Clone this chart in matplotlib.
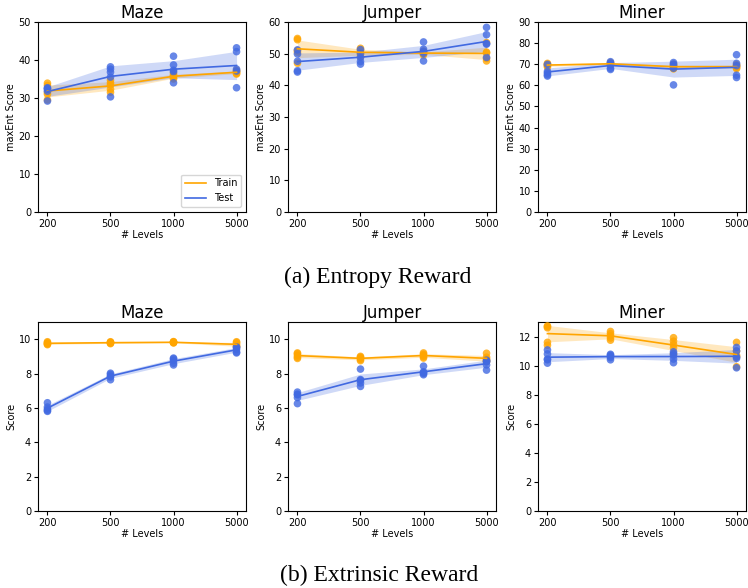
import numpy as np
import matplotlib
matplotlib.use("Agg")
import matplotlib.pyplot as plt

# --- Data (5 seeds per level count) ---
LEVELS = ["200", "500", "1000", "5000"]
GAMES = ["Maze", "Jumper", "Miner"]

# (a) entropy reward, maxEnt score
ENT_TRAIN = {
    "Maze": [[33.9, 33.3, 31.5, 31.0, 29.5], [34.7, 34.0, 33.4, 32.3, 31.5],
             [36.5, 36.0, 35.8, 35.3, 35.0], [37.3, 37.0, 36.8, 36.5, 36.3]],
    "Jumper": [[54.8, 54.4, 51.0, 50.5, 47.0], [51.7, 51.2, 50.5, 49.8, 49.0],
               [50.8, 50.4, 50.1, 49.6, 50.0], [53.5, 50.5, 50.2, 48.5, 47.7]],
    "Miner": [[70.4, 70.0, 69.6, 69.3, 68.7], [70.8, 70.5, 70.2, 69.9, 69.6],
              [70.0, 69.3, 68.7, 68.3, 67.8], [69.8, 69.3, 68.8, 68.4, 67.9]],
}
ENT_TEST = {
    "Maze": [[32.7, 32.3, 31.8, 32.5, 29.2], [38.2, 37.6, 36.8, 35.5, 30.3],
             [41.0, 38.7, 37.3, 36.9, 34.0], [43.2, 42.2, 37.6, 37.1, 32.7]],
    "Jumper": [[51.2, 49.9, 44.6, 44.2, 47.6], [51.3, 50.1, 48.8, 47.5, 46.7],
               [53.7, 51.4, 50.7, 50.1, 47.7], [58.3, 56.0, 53.2, 53.0, 48.8]],
    "Miner": [[69.9, 66.6, 65.8, 65.0, 64.4], [71.2, 70.5, 69.7, 68.1, 67.5],
              [70.8, 70.0, 69.3, 68.1, 60.2], [74.5, 70.4, 69.3, 64.8, 63.7]],
}
ENT_YMAX = {"Maze": 50, "Jumper": 60, "Miner": 90}

# (b) extrinsic reward, score
EXT_TRAIN = {
    "Maze": [[9.85, 9.8, 9.75, 9.72, 9.68], [9.85, 9.82, 9.8, 9.77, 9.74],
             [9.86, 9.84, 9.82, 9.8, 9.78], [9.85, 9.8, 9.7, 9.6, 9.55]],
    "Jumper": [[9.2, 9.15, 9.05, 8.95, 8.88], [9.0, 8.95, 8.9, 8.82, 8.75],
               [9.2, 9.12, 9.05, 8.98, 8.9], [9.18, 8.95, 8.85, 8.75, 8.7]],
    "Miner": [[12.73, 12.68, 12.6, 11.6, 11.4], [12.35, 12.2, 12.05, 11.9, 11.75],
              [11.92, 11.68, 11.45, 11.22, 10.8], [11.6, 11.0, 10.7, 10.6, 9.92]],
}
EXT_TEST = {
    "Maze": [[6.3, 6.05, 5.93, 5.85, 5.8], [8.02, 7.95, 7.85, 7.8, 7.64],
             [8.9, 8.85, 8.76, 8.6, 8.5], [9.55, 9.5, 9.4, 9.25, 9.2]],
    "Jumper": [[6.92, 6.8, 6.76, 6.6, 6.25], [8.26, 7.65, 7.6, 7.45, 7.25],
               [8.43, 8.1, 8.05, 8.0, 7.93], [8.78, 8.72, 8.68, 8.5, 8.2]],
    "Miner": [[11.08, 10.8, 10.45, 10.4, 10.17], [10.78, 10.72, 10.65, 10.55, 10.4],
              [10.95, 10.82, 10.7, 10.45, 10.2], [11.25, 11.0, 10.6, 10.5, 9.85]],
}
EXT_YMAX = {"Maze": 11, "Jumper": 11, "Miner": 13}

COLOR_TRAIN = "orange"
COLOR_TEST = "royalblue"

W, H = 748, 588
COL_LEFT = [38, 288, 538]
AX_W = 208


def draw_series(ax, runs, color, label):
    runs = np.asarray(runs, dtype=float)
    x = np.arange(runs.shape[0])
    mean = runs.mean(axis=1)
    ci = 1.96 * runs.std(axis=1, ddof=1) / np.sqrt(runs.shape[1])
    for i, vals in enumerate(runs):
        ax.scatter(np.full(len(vals), x[i]), vals, s=30, color=color,
                   alpha=0.8, edgecolors="none", zorder=3)
    ax.fill_between(x, mean - ci, mean + ci, color=color, alpha=0.25,
                    linewidth=0, zorder=2)
    ax.plot(x, mean, color=color, linewidth=1.2, label=label, zorder=4)


def make_panel(ax, title, train, test, ymax, ylabel, step):
    draw_series(ax, train, COLOR_TRAIN, "Train")
    draw_series(ax, test, COLOR_TEST, "Test")
    ax.set_title(title, fontsize=12, pad=3)
    ax.set_xticks(range(len(LEVELS)))
    ax.set_xticklabels(LEVELS)
    ax.set_xlim(-0.15, 3.15)
    ax.set_ylim(0, ymax)
    ax.set_yticks(np.arange(0, ymax + 0.01, step))
    ax.tick_params(labelsize=7, length=3, pad=2)
    ax.set_xlabel("# Levels", fontsize=7, labelpad=1)
    ax.set_ylabel(ylabel, fontsize=7, labelpad=2)


fig = plt.figure(figsize=(W / 100, H / 100), dpi=100)

for j, game in enumerate(GAMES):
    ax = fig.add_axes([COL_LEFT[j] / W, 1 - 212 / H, AX_W / W, 190 / H])
    make_panel(ax, game, ENT_TRAIN[game], ENT_TEST[game], ENT_YMAX[game],
               "maxEnt Score", 10)
    if game == "Maze":
        ax.legend(loc="lower right", fontsize=7, handlelength=2.2)

    ax = fig.add_axes([COL_LEFT[j] / W, 1 - 511 / H, AX_W / W, 189 / H])
    make_panel(ax, game, EXT_TRAIN[game], EXT_TEST[game], EXT_YMAX[game],
               "Score", 2)

fig.text(378 / W, 1 - 277 / H, "(a) Entropy Reward", ha="center", va="center",
         fontsize=17, family="Liberation Serif")
fig.text(379 / W, 1 - 575 / H, "(b) Extrinsic Reward", ha="center", va="center",
         fontsize=17, family="Liberation Serif")

fig.savefig("out.png", dpi=100)
